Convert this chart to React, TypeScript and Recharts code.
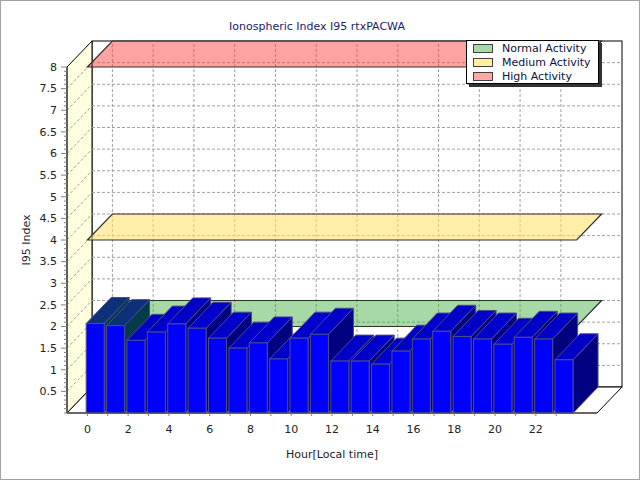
// Ionospheric Index I95 - hourly 3D bar chart with activity planes
import React from 'react';
import {
  BarChart,
  Bar,
  XAxis,
  YAxis,
  ReferenceArea,
  ReferenceLine,
  Legend,
} from 'recharts';

const HOURS = [0, 1, 2, 3, 4, 5, 6, 7, 8, 9, 10, 11, 12, 13, 14, 15, 16, 17, 18, 19, 20, 21, 22, 23];
const I95_VALUES = [
  2.07, 2.02, 1.68, 1.87, 2.06, 1.96, 1.73, 1.5, 1.62, 1.25, 1.73, 1.82,
  1.2, 1.2, 1.13, 1.43, 1.71, 1.89, 1.77, 1.71, 1.59, 1.75, 1.71, 1.23,
];
const X_LABEL_TICKS = [0, 2, 4, 6, 8, 10, 12, 14, 16, 18, 20, 22];
const Y_LABEL_TICKS = [0.5, 1, 1.5, 2, 2.5, 3, 3.5, 4, 4.5, 5, 5.5, 6, 6.5, 7, 7.5, 8];

const ACTIVITY_NAMES = ['Normal Activity', 'Medium Activity', 'High Activity'];
const ACTIVITY_LEVELS = [2, 4, 8];
const ACTIVITY_SWATCH = ['#a8d8a8', '#fff0a0', '#ffa8a8'];
const ACTIVITY_FILL = ['rgba(60,170,60,0.45)', 'rgba(255,226,110,0.6)', 'rgba(255,60,60,0.48)'];
const BAND_FROM = 0;
const BAND_TO = 24;

// 3D look
const DX = 25;
const DY = -26;
const BARS_UNDER_PLANE = 2; // first bars get painted below the normal plane
const FONT = '"DejaVu Sans", Verdana, sans-serif';

const chartData = HOURS.map((hour, i) => ({ hour, i95: I95_VALUES[i] }));
const yMinorTicks = Array.from({ length: 81 }, (_, i) => i / 10);

const pts = (list: number[][]) => list.map((p) => p.join(',')).join(' ');

function Walls(props: any) {
  const { x, y, width, height } = props;
  const b = y + height;
  return (
    <g stroke="#000" strokeWidth={1}>
      <rect x={x + DX} y={y + DY} width={width} height={height} fill="#fff" />
      <polygon points={pts([[x, b], [x, y], [x + DX, y + DY], [x + DX, b + DY]])} fill="#ffffe0" />
      <polygon
        points={pts([[x, b], [x + width, b], [x + width + DX, b + DY], [x + DX, b + DY]])}
        fill="#fff"
      />
    </g>
  );
}

function GridRow(props: any) {
  const { x1, y1, x2, y2 } = props;
  const xl = Math.min(x1, x2);
  return (
    <g stroke="#a0a0a0" strokeDasharray="3 2" fill="none">
      <line x1={x1 + DX} y1={y1 + DY} x2={x2 + DX} y2={y2 + DY} />
      <line x1={xl} y1={y1} x2={xl + DX} y2={y1 + DY} />
    </g>
  );
}

function GridColumn(props: any) {
  const { x1, y1, x2, y2 } = props;
  return (
    <line
      x1={x1 + DX}
      y1={y1 + DY}
      x2={x2 + DX}
      y2={y2 + DY}
      stroke="#a0a0a0"
      strokeDasharray="3 2"
    />
  );
}

function ActivityPlane(props: any) {
  const { x1, y1, x2, y2, bandFill } = props;
  return (
    <polygon
      points={pts([[x1, y1], [x2, y2], [x2 + DX, y2 + DY], [x1 + DX, y1 + DY]])}
      fill={bandFill}
      stroke="#303030"
      strokeWidth={1.2}
    />
  );
}

function Box3D(props: any) {
  const { x, y, width, height, index } = props;
  if (height == null || height <= 0) return <g />;
  const left = x + width / 2 - 1;
  const right = left + width;
  const bottom = y + height;
  const tinted = index < BARS_UNDER_PLANE;
  return (
    <g stroke="#4b4b8f" strokeWidth={1}>
      <polygon
        points={pts([[right, y], [right, bottom], [right + DX, bottom + DY], [right + DX, y + DY]])}
        fill={tinted ? '#053a4a' : '#000080'}
      />
      <polygon
        points={pts([[left, y], [right, y], [right + DX, y + DY], [left + DX, y + DY]])}
        fill={tinted ? '#0c3178' : '#0000c8'}
      />
      <rect x={left} y={y} width={width} height={height} fill="#0000ff" />
    </g>
  );
}

function YTick(props: any) {
  const { x, y, payload } = props;
  const tenths = Math.round(payload.value * 10);
  const major = Y_LABEL_TICKS.includes(tenths / 10);
  return (
    <g>
      <line x1={x - (major ? 6 : 3)} x2={x} y1={y} y2={y} stroke="#808080" />
      {major && (
        <text x={x - 10} y={y} dy="0.35em" textAnchor="end" fontSize={11} fontFamily={FONT} fill="#222">
          {tenths / 10}
        </text>
      )}
    </g>
  );
}

function XTick(props: any) {
  const { x, y, payload } = props;
  if (!X_LABEL_TICKS.includes(payload.value)) return <g />;
  return (
    <text x={x} y={y} dy="0.71em" textAnchor="middle" fontSize={11} fontFamily={FONT} fill="#222">
      {payload.value}
    </text>
  );
}

function ActivityLegend() {
  return (
    <div
      style={{
        width: 133,
        height: 44,
        boxSizing: 'border-box',
        border: '1px solid #000',
        background: '#fff',
        boxShadow: '3px 3px 0 #333',
        paddingLeft: 6,
        fontFamily: FONT,
        fontSize: 11,
        color: '#10103a',
      }}
    >
      {ACTIVITY_NAMES.map((name, i) => (
        <div key={name} style={{ display: 'flex', alignItems: 'center', height: 14 }}>
          <span
            style={{
              width: 20,
              height: 9,
              boxSizing: 'border-box',
              border: '1px solid #404040',
              background: ACTIVITY_SWATCH[i],
              marginRight: 9,
            }}
          />
          <span>{name}</span>
        </div>
      ))}
    </div>
  );
}

function YLabel(props: any) {
  const vb = props.viewBox ?? { x: 0, y: 67, width: 67, height: 346 };
  const cx = vb.x + vb.width / 2 - 7;
  const cy = vb.y + vb.height / 2;
  return (
    <text
      x={cx}
      y={cy}
      transform={`rotate(-90 ${cx} ${cy})`}
      textAnchor="middle"
      dominantBaseline="central"
      fontSize={11}
      fontFamily={FONT}
      fill="#222"
    >
      I95 Index
    </text>
  );
}

export default function App() {
  return (
    <div style={{ position: 'relative', width: 640, height: 480, background: '#fff', fontFamily: FONT }}>
      <style>{'body{margin:0}'}</style>
      <div
        style={{
          position: 'absolute',
          top: 20,
          left: 0,
          width: 634,
          textAlign: 'center',
          fontSize: 11,
          lineHeight: '13px',
          color: '#1a1a66',
          zIndex: 2,
        }}
      >
        Ionospheric Index I95 rtxPACWA
      </div>
      <BarChart
        width={640}
        height={480}
        data={chartData}
        margin={{ top: 67, right: 43, left: 0, bottom: 0 }}
      >
        <XAxis
          type="number"
          dataKey="hour"
          domain={[-1, 25]}
          ticks={HOURS}
          interval={0}
          height={67}
          tickSize={3}
          tickMargin={9}
          tickLine={{ stroke: '#808080' }}
          axisLine={{ stroke: '#505050' }}
          tick={<XTick />}
          label={{
            value: 'Hour[Local time]',
            position: 'insideBottom',
            offset: 22,
            fontSize: 11,
            fontFamily: FONT,
            fill: '#222',
          }}
        />
        <YAxis
          type="number"
          domain={[0, 8]}
          ticks={yMinorTicks}
          interval={0}
          width={67}
          tickSize={0}
          tickMargin={0}
          tickLine={false}
          axisLine={{ stroke: '#505050', strokeWidth: 1.5 }}
          tick={<YTick />}
          label={{ content: (p: any) => <YLabel {...p} /> }}
        />
        <ReferenceArea x1={-1} x2={25} y1={0} y2={8} zIndex={-30} shape={(p: any) => <Walls {...p} />} />
        {Y_LABEL_TICKS.filter((v) => v < 8).map((v) => (
          <ReferenceLine key={`gy-${v}`} y={v} zIndex={-20} shape={(p: any) => <GridRow {...p} />} />
        ))}
        {X_LABEL_TICKS.map((h) => (
          <ReferenceLine key={`gx-${h}`} x={h} zIndex={-20} shape={(p: any) => <GridColumn {...p} />} />
        ))}
        {ACTIVITY_LEVELS.map((level, i) => (
          <ReferenceLine
            key={ACTIVITY_NAMES[i]}
            segment={[
              { x: BAND_FROM, y: level },
              { x: BAND_TO, y: level },
            ]}
            zIndex={-10}
            shape={(p: any) => <ActivityPlane {...p} bandFill={ACTIVITY_FILL[i]} />}
          />
        ))}
        <Bar dataKey="i95" barSize={18} isAnimationActive={false} shape={(p: any) => <Box3D {...p} />} />
        <Legend
          verticalAlign="middle"
          layout="horizontal"
          wrapperStyle={{ left: 466, top: 40, width: 136, height: 47 }}
          content={() => <ActivityLegend />}
        />
      </BarChart>
      <div
        style={{
          position: 'absolute',
          inset: 0,
          border: '1px solid #a0a0a0',
          pointerEvents: 'none',
        }}
      />
    </div>
  );
}
